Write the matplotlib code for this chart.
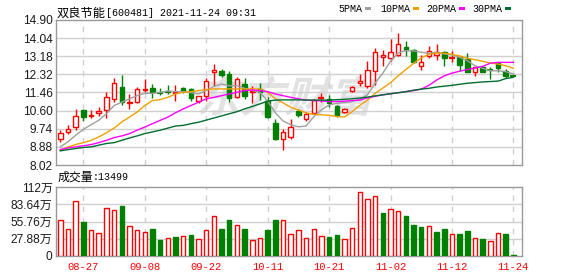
import matplotlib
matplotlib.use('Agg')
import matplotlib.pyplot as plt
from matplotlib.patches import Rectangle, PathPatch
from matplotlib.textpath import TextPath
from matplotlib.font_manager import FontProperties
from matplotlib.transforms import Affine2D

# ---------------- data ----------------
dates = ['08-27', '09-08', '09-22', '10-11', '10-21', '11-02', '11-12', '11-24']
date_idx = [3, 11, 19, 27, 35, 43, 51, 59]

opens = [9.26, 9.59, 9.82, 10.61, 10.33, 10.47, 10.64, 11.14, 11.70, 10.95,
         11.03, 11.58, 11.66, 11.45, 11.52, 11.44, 11.66, 11.63, 11.05, 11.31,
         12.41, 12.49, 12.33, 11.23, 11.86, 11.50, 11.63, 11.05, 10.03, 9.24,
         9.35, 10.56, 10.22, 10.50, 11.17, 11.16, 10.82, 10.52, 11.51, 11.91,
         11.79, 12.46, 13.15, 13.08, 13.26, 13.63, 13.50, 12.70, 13.18, 13.26,
         13.37, 13.06, 13.13, 13.05, 12.45, 12.65, 12.53, 12.86, 12.50, 12.26]
closes = [9.54, 9.74, 10.34, 10.28, 10.38, 10.56, 11.23, 11.89, 11.03, 11.02,
          11.63, 11.63, 11.50, 11.42, 11.49, 11.47, 11.53, 11.19, 11.28, 11.99,
          12.55, 12.29, 11.19, 12.10, 11.28, 11.55, 11.47, 10.28, 9.24, 9.59,
          9.82, 10.37, 10.42, 11.11, 11.21, 10.98, 10.39, 10.68, 11.70, 11.99,
          12.51, 13.37, 13.24, 13.39, 13.74, 13.50, 12.89, 12.93, 13.42, 13.37,
          13.08, 13.10, 12.77, 12.45, 12.65, 12.45, 12.50, 12.64, 12.23, 12.22]
highs = [9.70, 9.93, 10.69, 10.65, 10.61, 10.76, 11.47, 12.13, 12.29, 11.39,
         11.71, 12.10, 11.86, 11.66, 11.83, 11.83, 11.70, 11.65, 11.31, 12.13,
         12.80, 12.57, 12.49, 12.21, 12.13, 11.78, 11.91, 11.23, 10.21, 9.74,
         10.21, 10.68, 10.55, 11.15, 11.43, 11.35, 10.87, 10.74, 11.75, 12.34,
         12.97, 13.58, 13.50, 13.98, 14.30, 13.90, 13.53, 13.24, 13.69, 13.77,
         13.42, 13.45, 13.15, 13.34, 12.69, 12.73, 12.65, 12.89, 12.57, 12.28]
lows = [9.12, 9.51, 9.66, 10.09, 10.25, 10.34, 10.25, 11.00, 10.89, 10.68,
        10.95, 11.50, 11.22, 11.36, 11.39, 11.08, 11.44, 11.05, 10.97, 11.08,
        11.78, 12.18, 11.00, 11.19, 11.16, 10.97, 11.12, 10.25, 9.22, 8.72,
        9.27, 10.29, 10.12, 10.47, 11.03, 10.76, 10.31, 10.47, 11.46, 11.75,
        11.67, 11.83, 12.70, 12.97, 13.21, 13.21, 12.87, 12.54, 13.08, 13.02,
        12.73, 12.89, 12.46, 12.42, 12.26, 12.42, 12.10, 12.42, 12.13, 12.18]

ma5 = [8.88, 9.12, 9.43, 9.71, 9.93, 10.14, 10.45, 10.84, 11.00, 11.16,
       11.31, 11.42, 11.42, 11.47, 11.53, 11.50, 11.50, 11.45, 11.39, 11.55,
       11.75, 11.86, 11.78, 11.78, 11.66, 11.55, 11.47, 11.05, 10.50, 10.11,
       9.93, 9.83, 9.87, 10.31, 10.63, 10.87, 10.95, 10.98, 11.03, 11.14,
       11.35, 11.91, 12.38, 12.94, 13.34, 13.45, 13.43, 13.37, 13.32, 13.37,
       13.29, 13.24, 13.13, 12.97, 12.73, 12.61, 12.49, 12.49, 12.45, 12.34]
ma10 = [8.72, 8.88, 8.99, 9.08, 9.19, 9.35, 9.55, 9.77, 10.06, 10.29,
        10.53, 10.84, 11.08, 11.12, 11.23, 11.39, 11.47, 11.50, 11.55, 11.60,
        11.63, 11.63, 11.63, 11.63, 11.63, 11.63, 11.63, 11.47, 11.16, 10.97,
        10.76, 10.63, 10.50, 10.42, 10.40, 10.38, 10.32, 10.30, 10.55, 10.85,
        11.10, 11.42, 11.67, 11.93, 12.25, 12.55, 12.85, 13.10, 13.28, 13.33,
        13.33, 13.27, 13.20, 13.08, 13.02, 12.94, 12.86, 12.81, 12.73, 12.61]
ma20 = [8.75, 8.83, 8.88, 8.93, 8.99, 9.08, 9.19, 9.32, 9.40, 9.51,
        9.67, 9.82, 9.98, 10.14, 10.29, 10.50, 10.68, 10.84, 11.00, 11.16,
        11.23, 11.31, 11.39, 11.47, 11.55, 11.58, 11.55, 11.50, 11.39, 11.31,
        11.23, 11.16, 11.10, 11.08, 11.06, 11.03, 11.03, 11.05, 11.08, 11.10,
        11.20, 11.28, 11.35, 11.40, 11.45, 11.50, 11.55, 11.62, 11.80, 12.05,
        12.25, 12.38, 12.47, 12.55, 12.62, 12.70, 12.85, 12.89, 12.89, 12.89]
ma30 = [8.69, 8.75, 8.80, 8.85, 8.88, 8.96, 9.04, 9.08, 9.19, 9.30,
        9.40, 9.51, 9.59, 9.67, 9.77, 9.87, 9.90, 9.98, 10.05, 10.15,
        10.25, 10.35, 10.45, 10.55, 10.68, 10.80, 10.92, 11.05, 11.10, 11.11,
        11.11, 11.11, 11.10, 11.10, 11.10, 11.10, 11.12, 11.14, 11.16, 11.20,
        11.24, 11.30, 11.35, 11.40, 11.45, 11.50, 11.57, 11.62, 11.66, 11.72,
        11.76, 11.80, 11.85, 11.90, 11.93, 11.96, 11.98, 12.00, 12.12, 12.18]

volumes = [58.6, 44.1, 89.2, 54.3, 41.4, 37.6, 77.9, 74.7, 80.1, 47.8,
           41.4, 38.1, 43.0, 25.3, 29.6, 30.1, 31.7, 33.3, 27.9, 42.4,
           65.0, 43.0, 57.5, 50.5, 43.0, 25.3, 29.6, 41.4, 57.5, 58.6,
           36.0, 42.4, 29.6, 44.1, 32.8, 30.1, 33.3, 27.9, 45.7, 104.2,
           92.4, 96.2, 69.3, 75.2, 72.0, 63.9, 49.4, 46.2, 47.8, 38.7,
           43.0, 36.0, 34.9, 40.3, 29.6, 26.9, 23.6, 37.6, 34.9, 1.35]
vol_up = [1, 1, 1, 0, 1, 1, 1, 1, 0, 1,
          1, 1, 0, 0, 1, 0, 1, 0, 1, 1,
          1, 0, 0, 1, 0, 1, 1, 0, 0, 1,
          1, 1, 1, 1, 1, 0, 0, 1, 1, 1,
          1, 1, 0, 1, 1, 0, 0, 0, 1, 0,
          0, 1, 0, 0, 1, 0, 1, 1, 0, 0]

price_ticks = [8.02, 8.88, 9.74, 10.60, 11.46, 12.32, 13.18, 14.04, 14.90]
vol_ticks = [0, 27.88, 55.76, 83.64, 111.52]
vol_tick_labels = ['0', '27.88万', '55.76万', '83.64万', '112万']
ma_names = ['5PMA', '10PMA', '20PMA', '30PMA']
title_name = '双良节能'
title_rest = '[600481] 2021-11-24 09:31'
vol_title = '成交量'
vol_last = ':13499'

# ---------------- style ----------------
RED = '#ff0000'
GREEN = '#008000'
MA_COLORS = ['#a0a0a0', '#f0a000', '#ff00ff', '#006e30']
GRID = '#d0d0d0'
FRAME = '#999999'
LABEL = '#1a1a1a'

W, H = 578, 276
fig = plt.figure(figsize=(W / 100, H / 100), dpi=100)


def fx(px):
    return px / W


def fy(py):
    return 1 - py / H


L, R = 56, 522
ax = fig.add_axes([fx(L), fy(165), fx(R) - fx(L), fy(20) - fy(165)])
axv = fig.add_axes([fx(L), fy(256), fx(R) - fx(L), fy(187) - fy(256)])

n = len(closes)
xs = list(range(n))
x0, x1 = -0.56, 60.12

for a in (ax, axv):
    a.set_xlim(x0, x1)
    for s in a.spines.values():
        s.set_color(FRAME)
        s.set_linewidth(1)
    a.tick_params(length=0)
    for d in date_idx:
        a.axvline(d, color=GRID, lw=1, dashes=(4, 4), zorder=0.6)

ax.set_ylim(price_ticks[0], price_ticks[-1])
ax.set_yticks(price_ticks)
ax.set_yticklabels(['%.2f' % v for v in price_ticks])
ax.set_xticks([])
for v in price_ticks[1:-1]:
    ax.axhline(v, color=GRID, lw=1, zorder=0.6)

axv.set_ylim(0, vol_ticks[-1])
axv.set_yticks(vol_ticks)
axv.set_yticklabels(vol_tick_labels)
for v in vol_ticks[1:-1]:
    axv.axhline(v, color=GRID, lw=1, zorder=0.6)
axv.set_xticks(date_idx)
axv.set_xticklabels(dates, color=RED, family='Liberation Mono', fontsize=7.6)
axv.tick_params(axis='x', pad=4)

for a in (ax, axv):
    for lab in a.get_yticklabels():
        lab.set_fontfamily(['Liberation Sans', 'Noto Sans CJK SC'])
        lab.set_fontsize(8.6)
        lab.set_color(LABEL)
    a.tick_params(axis='y', pad=2.5)

# watermark
wm_path = TextPath((0, 0), '东方财富', size=42,
                   prop=FontProperties(family='Noto Sans CJK SC', weight='bold'))
wm_tr = Affine2D().skew_deg(14, 0).scale(1.05, 1.0).translate(196, H - 112).scale(1 / W, 1 / H) + fig.transFigure
ax.add_patch(PathPatch(wm_path, transform=wm_tr, facecolor='#e2e2e2', lw=0, zorder=0.5))

# candles
bw = 0.58
for i in xs:
    o, c, h, l = opens[i], closes[i], highs[i], lows[i]
    up = c >= o
    col = RED if up else GREEN
    ax.vlines(i, l, h, color=col, lw=1, zorder=2)
    lo, hi = min(o, c), max(o, c)
    if hi - lo < 0.05:
        ax.hlines((o + c) / 2, i - bw / 2 - 0.1, i + bw / 2 + 0.1, color=col, lw=1.6, zorder=3)
    else:
        ax.add_patch(Rectangle((i - bw / 2, lo), bw, hi - lo,
                               facecolor='white' if up else col, edgecolor=col,
                               lw=1, zorder=3))

for vals, colr in zip([ma5, ma10, ma20, ma30], MA_COLORS):
    ax.plot(xs, vals, color=colr, lw=1, zorder=4)

# volume bars
for i in xs:
    up = vol_up[i] == 1
    col = RED if up else GREEN
    axv.add_patch(Rectangle((i - bw / 2, 0), bw, volumes[i],
                            facecolor='white' if up else col, edgecolor=col,
                            lw=1, zorder=3))

# title texts
fig.text(fx(57), fy(13), title_name, family='Noto Sans CJK SC', fontsize=8.8,
         va='center', ha='left', color='#000000')
fig.text(fx(106), fy(13), title_rest, family='Liberation Mono', fontsize=7.2,
         va='center', ha='left', color='#000000')

fig.text(fx(58), fy(177.5), vol_title, family='Noto Sans CJK SC', fontsize=8.6,
         va='center', ha='left', color='#000000')
fig.text(fx(93), fy(177.5), vol_last, family='Liberation Mono', fontsize=7.2,
         va='center', ha='left', color='#000000')

# legend
leg_text_x = [338, 380, 426, 472]
leg_sq_x = [365, 413, 459, 505]
for name, tx, sx, colr in zip(ma_names, leg_text_x, leg_sq_x, MA_COLORS):
    fig.text(fx(tx), fy(8.5), name, family='Liberation Mono', fontsize=7.2,
             va='center', ha='left', color='#000000')
    fig.patches.append(Rectangle((fx(sx), fy(10.2)), 6 / W, 3.5 / H,
                                 transform=fig.transFigure, facecolor=colr,
                                 edgecolor='none'))

fig.savefig('out.png', dpi=100)
